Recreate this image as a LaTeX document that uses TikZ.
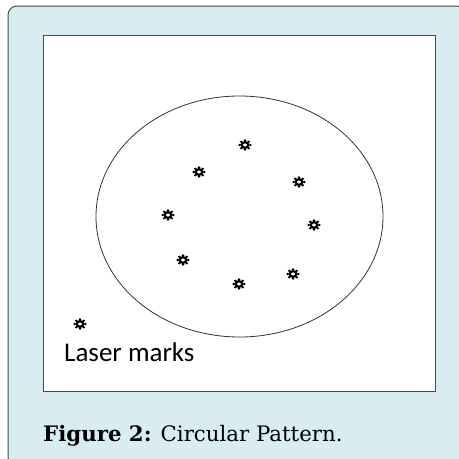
\documentclass[tikz,border=0pt]{standalone}
\usepackage{fontspec}
\setmainfont{DejaVu Serif}
\newfontfamily\labelfont{Carlito}
\usetikzlibrary{shapes.geometric}
\definecolor{panelblue}{HTML}{D8ECF1}
\definecolor{edgegray}{HTML}{4A4A4A}
\tikzset{
  lasermark/.pic={
    \begin{scope}[yscale=0.85]
    \foreach \a in {0,45,...,315} {\fill[black] (\a:5.3pt) circle (1.5pt);}
    \draw[black,line width=2.2pt] (0,0) circle (3.3pt);
    \end{scope}
  }
}
\begin{document}
\begin{tikzpicture}[x=1pt,y=-1pt]
\useasboundingbox (0,0) rectangle (459,459);
\begin{scope}
\clip (0,0) rectangle (459,459);
\draw[edgegray,line width=1pt,fill=panelblue,rounded corners=9pt] (8,6) rectangle (466,466);
\end{scope}
\draw[edgegray,line width=1pt,fill=white] (43,35) rectangle (435,391);
\node[draw=black!80,line width=0.8pt,ellipse,minimum width=287pt,minimum height=241pt,inner sep=0pt] (disc) at (239.5,216.5) {};
\foreach \x/\y [count=\i] in {245/145,199/172,299/182,168/215,314/225,183/260,293/274,239/284,80/324}
  {\coordinate (m\i) at (\x,\y); \pic at (m\i) {lasermark};}
\node[anchor=base west,inner sep=0pt,font=\labelfont\fontsize{27}{32}\selectfont] (lbl) at (64,361) {Laser marks};
\node[anchor=base west,inner sep=0pt,font=\fontsize{21.3}{26}\selectfont] (cap) at (43,441) {\textbf{Figure 2:} Circular Pattern.};
\end{tikzpicture}
\end{document}
